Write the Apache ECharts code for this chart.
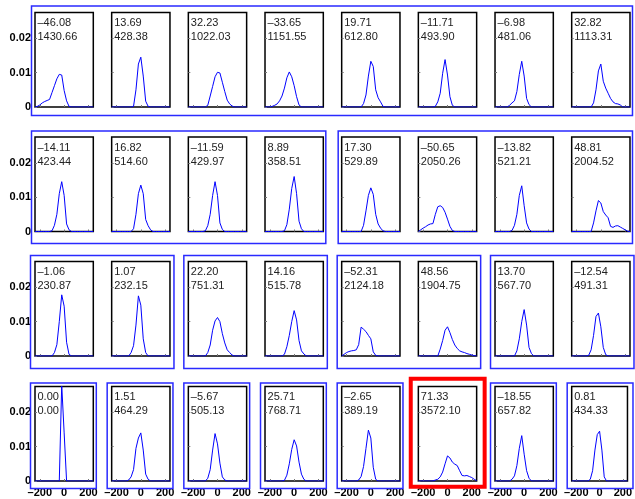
<!DOCTYPE html>
<html>
<head>
<meta charset="utf-8">
<script src="https://cdn.jsdelivr.net/npm/echarts@6/dist/echarts.min.js"></script>
<style>
  html, body { margin: 0; padding: 0; background: #fff; }
  #chart { width: 635px; height: 499px; }
</style>
</head>
<body>
<div id="chart"></div>
<script>
  // density grid (x values shared by every panel)
  const xs = [-240, -220, -200, -180, -160, -140, -120, -100, -80, -60, -40, -20, 0,
    20, 40, 60, 80, 100, 120, 140, 160, 180, 200, 220, 240]
  const xTicks = [-200, 0, 200]
  const yTicks = [0, 0.01, 0.02]

  const densRow1 = [
    [0, 0.0002, 0.0006, 0.0012, 0.0016, 0.0019, 0.0022, 0.0042, 0.0062, 0.0082, 0.0095, 0.0093, 0.0048, 0.0018, 0.0002, 0, 0, 0, 0, 0, 0, 0, 0, 0, 0],
    [0, 0, 0, 0, 0, 0, 0, 0, 0, 0.0002, 0.005, 0.0125, 0.0145, 0.009, 0.0017, 0.0002, 0, 0, 0, 0, 0, 0, 0, 0, 0],
    [0, 0, 0, 0, 0, 0, 0, 0, 0.0005, 0.0032, 0.006, 0.0088, 0.0101, 0.0099, 0.0072, 0.0045, 0.002, 0.0009, 0.0003, 0, 0, 0, 0, 0, 0],
    [0, 0, 0, 0.0002, 0.0005, 0.0009, 0.0018, 0.0032, 0.0055, 0.0085, 0.0102, 0.0088, 0.0062, 0.003, 0.0006, 0, 0, 0, 0, 0, 0, 0, 0, 0, 0],
    [0, 0, 0, 0, 0, 0, 0, 0, 0, 0.001, 0.0035, 0.009, 0.0133, 0.0118, 0.005, 0.0027, 0.0015, 0.0002, 0, 0, 0, 0, 0, 0, 0],
    [0, 0, 0, 0, 0, 0, 0, 0.0002, 0.0015, 0.004, 0.0098, 0.0138, 0.0093, 0.003, 0.0005, 0, 0, 0, 0, 0, 0, 0, 0, 0, 0],
    [0, 0, 0, 0, 0, 0, 0.0005, 0.0012, 0.0018, 0.0045, 0.0095, 0.0133, 0.009, 0.0025, 0.0007, 0, 0, 0, 0, 0, 0, 0, 0, 0, 0],
    [0, 0, 0, 0, 0, 0, 0, 0, 0, 0.0012, 0.005, 0.0105, 0.0125, 0.0075, 0.0055, 0.004, 0.0025, 0.0015, 0.001, 0.0009, 0.0006, 0, 0, 0, 0]
  ]
  const densRow2 = [
    [0, 0, 0, 0, 0, 0, 0, 0.0002, 0.0018, 0.005, 0.011, 0.0145, 0.0105, 0.0022, 0.0005, 0, 0, 0, 0, 0, 0, 0, 0, 0, 0],
    [0, 0, 0, 0, 0, 0, 0, 0, 0, 0.0008, 0.005, 0.011, 0.0135, 0.011, 0.0035, 0.0017, 0.0005, 0, 0, 0, 0, 0, 0, 0, 0],
    [0, 0, 0, 0, 0, 0, 0, 0.0002, 0.0017, 0.005, 0.0105, 0.0145, 0.0105, 0.0025, 0.0006, 0, 0, 0, 0, 0, 0, 0, 0, 0, 0],
    [0, 0, 0, 0, 0, 0, 0, 0, 0.0002, 0.002, 0.0065, 0.0125, 0.016, 0.011, 0.003, 0.0008, 0, 0, 0, 0, 0, 0, 0, 0, 0],
    [0, 0, 0, 0, 0, 0, 0, 0, 0, 0.0018, 0.006, 0.0105, 0.0127, 0.0108, 0.005, 0.0022, 0.001, 0.0002, 0, 0, 0, 0, 0, 0, 0],
    [0, 0.0005, 0.001, 0.0014, 0.0019, 0.0022, 0.0023, 0.005, 0.0072, 0.0075, 0.007, 0.0056, 0.0036, 0.0015, 0.0003, 0, 0, 0, 0, 0, 0, 0, 0, 0, 0],
    [0, 0, 0, 0, 0, 0, 0, 0.0003, 0.0018, 0.005, 0.0105, 0.0133, 0.0075, 0.0025, 0.0007, 0, 0, 0, 0, 0, 0, 0, 0, 0, 0],
    [0, 0, 0, 0, 0, 0, 0, 0, 0, 0.0025, 0.006, 0.009, 0.0083, 0.0058, 0.0048, 0.004, 0.0015, 0.0012, 0.0016, 0.0017, 0.0013, 0.0009, 0.0005, 0.0001, 0]
  ]
  const densRow3 = [
    [0, 0, 0, 0, 0, 0, 0, 0, 0.001, 0.0033, 0.01, 0.0178, 0.0145, 0.004, 0.0005, 0, 0, 0, 0, 0, 0, 0, 0, 0, 0],
    [0, 0, 0, 0, 0, 0, 0, 0, 0.001, 0.003, 0.009, 0.0175, 0.0148, 0.005, 0.001, 0, 0, 0, 0, 0, 0, 0, 0, 0, 0],
    [0, 0, 0, 0, 0, 0, 0, 0, 0.001, 0.0032, 0.0075, 0.0102, 0.0112, 0.01, 0.0065, 0.0038, 0.0018, 0.001, 0.0003, 0, 0, 0, 0, 0, 0],
    [0, 0, 0, 0, 0, 0, 0, 0, 0.0005, 0.0027, 0.006, 0.01, 0.0132, 0.0105, 0.0045, 0.0015, 0.0006, 0, 0, 0, 0, 0, 0, 0, 0],
    [0, 0.0005, 0.001, 0.0013, 0.0015, 0.0016, 0.0018, 0.0033, 0.0084, 0.0078, 0.0071, 0.006, 0.005, 0.0012, 0.0002, 0, 0, 0, 0, 0, 0, 0, 0, 0, 0],
    [0, 0, 0, 0, 0, 0, 0, 0, 0, 0.002, 0.0045, 0.0075, 0.0085, 0.0068, 0.0048, 0.0032, 0.0022, 0.0015, 0.0012, 0.001, 0.0007, 0.0005, 0.0003, 0.0001, 0],
    [0, 0, 0, 0, 0, 0, 0, 0, 0, 0.0015, 0.005, 0.01, 0.0135, 0.009, 0.0025, 0.0007, 0, 0, 0, 0, 0, 0, 0, 0, 0],
    [0, 0, 0, 0, 0, 0, 0, 0.0002, 0.0018, 0.006, 0.0115, 0.0125, 0.0085, 0.0025, 0.0004, 0, 0, 0, 0, 0, 0, 0, 0, 0, 0]
  ]
  const densRow4 = [
    [0, 0, 0, 0, 0, 0, 0, 0, 0, 0, 0, 0.028, 0.014, 0, 0, 0, 0, 0, 0, 0, 0, 0, 0, 0, 0],
    [0, 0, 0, 0, 0, 0, 0, 0.0003, 0.0012, 0.0033, 0.0095, 0.0125, 0.014, 0.009, 0.002, 0.0005, 0, 0, 0, 0, 0, 0, 0, 0, 0],
    [0, 0, 0, 0, 0, 0, 0, 0, 0.0008, 0.0033, 0.009, 0.0138, 0.0108, 0.0052, 0.0012, 0.0003, 0, 0, 0, 0, 0, 0, 0, 0, 0],
    [0, 0, 0, 0, 0, 0, 0, 0, 0.0002, 0.0017, 0.005, 0.0092, 0.012, 0.0102, 0.0055, 0.002, 0.0005, 0, 0, 0, 0, 0, 0, 0, 0],
    [0, 0, 0, 0, 0, 0, 0, 0.0003, 0.0013, 0.0042, 0.0095, 0.0148, 0.0125, 0.004, 0.0005, 0, 0, 0, 0, 0, 0, 0, 0, 0, 0],
    [0, 0, 0, 0, 0, 0, 0, 0.0003, 0.0005, 0.0012, 0.0026, 0.005, 0.0073, 0.0067, 0.0055, 0.0049, 0.0045, 0.003, 0.0016, 0.0015, 0.0016, 0.0013, 0.001, 0.0005, 0.0001],
    [0, 0, 0, 0, 0, 0, 0, 0.0005, 0.0015, 0.0045, 0.0095, 0.0132, 0.0078, 0.003, 0.0008, 0, 0, 0, 0, 0, 0, 0, 0, 0, 0],
    [0, 0, 0, 0, 0, 0, 0, 0, 0.0005, 0.003, 0.009, 0.0135, 0.0145, 0.009, 0.0012, 0, 0, 0, 0, 0, 0, 0, 0, 0, 0]
  ]

  // numbers printed in each panel (mean, variance)
  const means = [
    -46.08, 13.69, 32.23, -33.65, 19.71, -11.71, -6.98, 32.82,
    -14.11, 16.82, -11.59, 8.89, 17.30, -50.65, -13.82, 48.81,
    -1.06, 1.07, 22.20, 14.16, -52.31, 48.56, 13.70, -12.54,
    0.00, 1.51, -5.67, 25.71, -2.65, 71.33, -18.55, 0.81
  ]
  const variances = [
    1430.66, 428.38, 1022.03, 1151.55, 612.80, 493.90, 481.06, 1113.31,
    423.44, 514.60, 429.97, 358.51, 529.89, 2050.26, 521.21, 2004.52,
    230.87, 232.15, 751.31, 515.78, 2124.18, 1904.75, 567.70, 491.31,
    0.00, 464.29, 505.13, 768.71, 389.19, 3572.10, 657.82, 434.33
  ]

  // blue boxes per row: [first col, last col]; red box on row 4 col 6
  const groupsRow = [
    [[0, 7]],
    [[0, 3], [4, 7]],
    [[0, 1], [2, 3], [4, 5], [6, 7]],
    [[0, 0], [1, 1], [2, 2], [3, 3], [4, 4], [6, 6], [7, 7]]
  ]
  const redBox = [3, 5]

  const allDens = [densRow1, densRow2, densRow3, densRow4]

  // layout
  const PW = 58.3, PH = 94.5, COL0 = 35, STEP = 76.67
  const ROW_TOPS = [12.5, 137, 261.5, 386.5]
  const YMAX = 0.0275
  const boxPad = [
    { l: 3.5, r: 2.5, t: 6.5, b: 8.5 },
    { l: 3.5, r: 2.5, t: 6, b: 12 },
    { l: 4.5, r: 4, t: 6, b: 12.5 },
    { l: 4.5, r: 3, t: 3.5, b: 7.5 }
  ]
  const FONT = '"Liberation Sans", Arial, Helvetica, sans-serif'

  function fmtSigned(v, digits) {
    let s = digits == null ? String(Math.abs(v)) : Math.abs(v).toFixed(digits)
    return (v < 0 ? '\u2013' : '') + s
  }

  let grid = [], xAxis = [], yAxis = [], series = [], graphic = []

  for (let r = 0; r < 4; r++) {
    for (let c = 0; c < 8; c++) {
      let i = r * 8 + c
      let left = COL0 + c * STEP
      let top = ROW_TOPS[r]
      grid.push({
        left: left, top: top, width: PW, height: PH,
        show: true, borderColor: '#000', borderWidth: 1.5,
        backgroundColor: 'transparent'
      })
      xAxis.push({
        gridIndex: i, type: 'value', min: -240, max: 240, position: 'bottom',
        axisLine: { show: false, onZero: false },
        splitLine: { show: false },
        axisTick: { show: true, inside: true, length: 2, customValues: xTicks, lineStyle: { color: '#777' } },
        axisLabel: {
          show: r === 3, customValues: xTicks, margin: 6,
          fontFamily: FONT, fontSize: 11, fontWeight: 'bold', color: '#000',
          formatter: v => fmtSigned(v)
        }
      })
      yAxis.push({
        gridIndex: i, type: 'value', min: 0, max: YMAX, position: 'left',
        axisLine: { show: false, onZero: false },
        splitLine: { show: false },
        axisTick: { show: true, inside: true, length: 2, customValues: yTicks, lineStyle: { color: '#777' } },
        axisLabel: {
          show: c === 0, customValues: yTicks, margin: 4,
          fontFamily: FONT, fontSize: 11, fontWeight: 'bold', color: '#000',
          formatter: v => v === 0 ? '0' : v.toFixed(2)
        }
      })
      series.push({
        type: 'line', xAxisIndex: i, yAxisIndex: i,
        data: xs.map((x, k) => [x, allDens[r][c][k]]),
        showSymbol: false, symbol: 'none', clip: true,
        lineStyle: { color: '#0000ff', width: 1 },
        z: 3
      })
      graphic.push({
        type: 'text', x: left + 2.5, y: top + 10.5, z: 10,
        style: { text: fmtSigned(means[i], 2), font: '11px ' + FONT, fill: '#222', verticalAlign: 'middle' }
      })
      graphic.push({
        type: 'text', x: left + 2.5, y: top + 24.5, z: 10,
        style: { text: variances[i].toFixed(2), font: '11px ' + FONT, fill: '#222', verticalAlign: 'middle' }
      })
    }
  }

  // group boxes
  groupsRow.forEach((groups, r) => {
    let p = boxPad[r]
    groups.forEach(g => {
      let x0 = COL0 + g[0] * STEP - p.l
      let x1 = COL0 + g[1] * STEP + PW + p.r
      let y0 = ROW_TOPS[r] - p.t
      let y1 = ROW_TOPS[r] + PH + p.b
      graphic.push({
        type: 'rect', z: 20,
        shape: { x: x0, y: y0, width: x1 - x0, height: y1 - y0 },
        style: { fill: 'none', stroke: '#2a2aff', lineWidth: 1.5 }
      })
    })
  })
  {
    let x0 = COL0 + redBox[1] * STEP - 7.6
    let x1 = COL0 + redBox[1] * STEP + PW + 8
    let y0 = ROW_TOPS[redBox[0]] - 7.8
    let y1 = ROW_TOPS[redBox[0]] + PH + 5.7
    graphic.push({
      type: 'rect', z: 20,
      shape: { x: x0, y: y0, width: x1 - x0, height: y1 - y0 },
      style: { fill: 'none', stroke: '#ff0000', lineWidth: 4 }
    })
  }

  let chart = echarts.init(document.getElementById('chart'))
  let options = {
    animation: false,
    backgroundColor: '#fff',
    grid: grid,
    xAxis: xAxis,
    yAxis: yAxis,
    series: series,
    graphic: graphic
  }
  chart.setOption(options, true)
</script>
</body>
</html>
